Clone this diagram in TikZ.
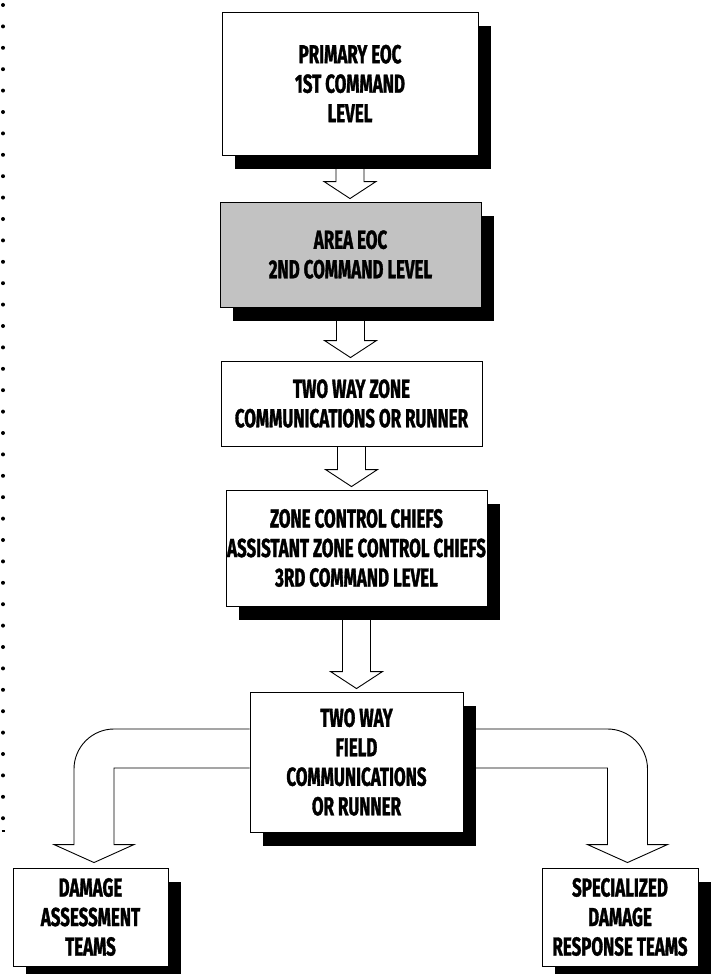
\documentclass[tikz,border=0pt]{standalone}
\usepackage{fontspec}
\newfontfamily\boxfont{Fira Sans}[FakeStretch=0.65, FakeBold=1.2]
\usetikzlibrary{calc,shadows,backgrounds}

\tikzset{
  levelbox/.style={draw, line width=0.9pt, fill=white, align=center, inner sep=0pt,
    font=\boxfont\bfseries\fontsize{26pt}{29.5pt}\selectfont},
  shadowed/.style={drop shadow={shadow xshift=13pt, shadow yshift=-14pt, fill=black, opacity=1}},
  areafill/.style={fill=black!24},
  blockarrow/.style={draw, line width=0.9pt, fill=white, line join=miter},
}

\begin{document}
\begin{tikzpicture}[x=1pt, y=-1pt]
  \useasboundingbox (0,0) rectangle (713,974);

  % Command levels
  \node[levelbox, shadowed, minimum width=256pt, minimum height=143pt] (b1) at (350,83.5)
    {PRIMARY EOC\\1ST COMMAND\\LEVEL};
  \node[levelbox, shadowed, areafill, minimum width=261pt, minimum height=105pt] (b2) at (350.5,254.5)
    {AREA EOC\\2ND COMMAND LEVEL};
  \node[levelbox, minimum width=261pt, minimum height=85pt] (b3) at (351.5,403.5)
    {TWO WAY ZONE\\COMMUNICATIONS OR RUNNER};
  \node[levelbox, shadowed, minimum width=261pt, minimum height=116pt] (b4) at (356.5,548)
    {ZONE CONTROL CHIEFS\\ASSISTANT ZONE CONTROL CHIEFS\\3RD COMMAND LEVEL};
  \node[levelbox, shadowed, minimum width=213pt, minimum height=140pt] (b5) at (356.5,762)
    {TWO WAY\\FIELD\\COMMUNICATIONS\\OR RUNNER};

  % Field teams
  \node[levelbox, shadowed, minimum width=155pt, minimum height=98pt] (b6) at (90.5,917)
    {DAMAGE\\ASSESSMENT\\TEAMS};
  \node[levelbox, shadowed, minimum width=156pt, minimum height=98pt] (b7) at (620,917)
    {SPECIALIZED\\DAMAGE\\RESPONSE TEAMS};

  % Margin dots
  \foreach \i in {0,...,38}
    \fill (3,{5+21.4*\i}) circle[radius=2pt];
  \draw[line width=1.4pt] (1.5,831) -- (4.5,831);

  \begin{pgfonlayer}{background}
    \fill[white] (0,0) rectangle (713,974);
    % Block arrows down the chain
    \foreach \a/\b in {b1/b2,b2/b3,b3/b4,b4/b5}{
      \coordinate (tip) at ($(\a.south |- \b.north)+(0,-3)$);
      \draw[blockarrow] ($(\a.south)+(-14,0)$) -- ($(tip)+(-14,-17)$) -- ($(tip)+(-26,-17)$)
        -- (tip) -- ($(tip)+(26,-17)$) -- ($(tip)+(14,-17)$) -- ($(\a.south)+(14,0)$);
    }
    % Left branch
    \coordinate (ltip) at ($(b6.north)+(3.5,-5)$);
    \draw[blockarrow] ($(b5.west)+(0,-33)$) -- ($(ltip |- b5.west)+(20,-33)$)
      .. controls ($(ltip |- b5.west)+(-2,-33)$) and ($(ltip |- b5.west)+(-20,-15)$) .. ($(ltip |- b5.west)+(-20,7)$)
      -- ($(ltip)+(-20,-18)$) -- ($(ltip)+(-40,-18)$) -- (ltip) -- ($(ltip)+(40,-18)$)
      -- ($(ltip)+(20,-18)$) -- ($(ltip |- b5.west)+(20,6)$) -- ($(b5.west)+(0,6)$);
    % Right branch
    \coordinate (rtip) at ($(b7.north)+(7.5,-5)$);
    \draw[blockarrow] ($(b5.east)+(0,-33)$) -- ($(rtip |- b5.east)+(-20,-33)$)
      .. controls ($(rtip |- b5.east)+(2,-33)$) and ($(rtip |- b5.east)+(20,-15)$) .. ($(rtip |- b5.east)+(20,7)$)
      -- ($(rtip)+(20,-18)$) -- ($(rtip)+(40,-18)$) -- (rtip) -- ($(rtip)+(-40,-18)$)
      -- ($(rtip)+(-20,-18)$) -- ($(rtip |- b5.east)+(-20,6)$) -- ($(b5.east)+(0,6)$);
  \end{pgfonlayer}
\end{tikzpicture}
\end{document}
